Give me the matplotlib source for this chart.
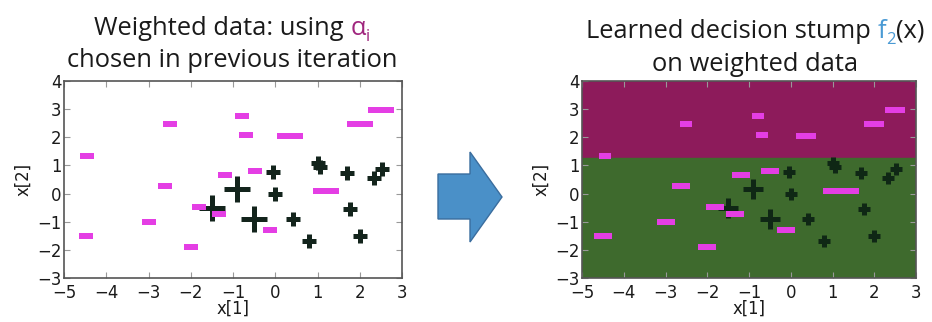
import matplotlib
matplotlib.use("Agg")
import matplotlib.pyplot as plt
from matplotlib.patches import Polygon

# negative class (drawn as "-"), positions and weights before/after the stump
neg_x1 = [-4.45, -4.49, -2.50, -2.62, -3.00, -2.00, -1.81, -1.34, -1.19,
          -0.78, -0.70, -0.49, -0.12, 0.36, 1.20, 2.00, 2.50]
neg_x2 = [1.35, -1.51, 2.48, 0.26, -1.02, -1.91, -0.49, -0.73, 0.67,
          2.77, 2.07, 0.79, -1.28, 2.04, 0.09, 2.48, 2.97]
neg_w_prev = [1, 1, 1, 1, 1, 1, 1, 1, 1, 1, 1, 1, 1, 1.85, 1.85, 1.85, 1.85]
neg_w_new = [0.83, 1.32, 0.83, 1.32, 1.32, 1.32, 1.32, 1.32, 1.32,
             0.83, 0.83, 1.32, 1.32, 1.48, 2.52, 1.48, 1.48]

# positive class (drawn as "+")
pos_x1 = [-0.05, 0.00, 0.42, 0.79, 1.00, 1.06, 1.69, 1.76, 2.00, 2.33, 2.52,
          -0.90, -0.50, -1.50]
pos_x2 = [0.78, 0.00, -0.91, -1.68, 1.10, 0.96, 0.73, -0.55, -1.51, 0.55, 0.86,
          0.18, -0.91, -0.50]
pos_w_prev = [1] * 11 + [1.9] * 3
pos_w_new = [0.9] * 11 + [1.5] * 3

# decision stump f2: x[2] > threshold -> negative
stump_threshold = 1.27

x_ticks = [-5, -4, -3, -2, -1, 0, 1, 2, 3]
y_ticks = [-3, -2, -1, 0, 1, 2, 3, 4]

W, H = 932, 322
PT = 72 / 100.0  # px -> pt

MAGENTA = "#e43ee4"
PLUS_DARK = "#13241c"
TITLE_FONT = "Open Sans"
LABEL_SIZE = 16.5 * PT

fig = plt.figure(figsize=(W / 100, H / 100), dpi=100)
fig.patch.set_facecolor("white")


def fmt(t):
    return "\u2212%d" % -t if t < 0 else str(t)


def setup_axes(ax):
    ax.set_xlim(-5, 3)
    ax.set_ylim(-3, 4)
    ax.set_xticks(x_ticks)
    ax.set_yticks(y_ticks)
    ax.set_xticklabels([fmt(t) for t in x_ticks])
    ax.set_yticklabels([fmt(t) for t in y_ticks])
    ax.tick_params(direction="in", top=True, right=True, length=4, width=0.8,
                   color="#999999", labelsize=LABEL_SIZE, labelcolor="#1a1a1a")
    ax.tick_params(axis="x", pad=4)
    ax.tick_params(axis="y", pad=2)
    for lbl in ax.get_yticklabels():
        lbl.set_va("center_baseline")
    for s in ax.spines.values():
        s.set_color("#555555")
        s.set_linewidth(1.2)
    ax.set_xlabel("x[1]", fontsize=LABEL_SIZE, color="#1a1a1a", labelpad=-1)
    ax.set_ylabel("x[2]", fontsize=LABEL_SIZE, color="#1a1a1a", labelpad=3)


def draw_points(ax, pw, nw, plus_color):
    for x, y, w in zip(pos_x1, pos_x2, pw):
        ax.plot(x, y, marker="+", ms=13.3 * w * PT, mew=5 * PT,
                color=plus_color, linestyle="none")
    for x, y, w in zip(neg_x1, neg_x2, nw):
        ax.plot(x, y, marker="_", ms=14 * w * PT, mew=6 * PT,
                color=MAGENTA, linestyle="none")


def rich_line(x_px, y_px, pieces, size):
    # pieces: (text, color, size scale, baseline shift in em)
    r = fig.canvas.get_renderer()
    items = []
    for s, c, sc, dy in pieces:
        t = fig.text(0, 0, s, color=c, fontsize=size * sc, family=TITLE_FONT,
                     va="baseline", ha="left")
        w = t.get_window_extent(r).width
        items.append((t, w, dy))
    total = sum(w for _, w, _ in items)
    x = x_px - total / 2
    for t, w, dy in items:
        t.set_position((x / W, 1 - (y_px + dy * size / PT) / H))
        x += w


ax1 = fig.add_axes([64 / W, 1 - 278 / H, 338 / W, 197 / H])
setup_axes(ax1)
draw_points(ax1, pos_w_prev, neg_w_prev, PLUS_DARK)

ax2 = fig.add_axes([582 / W, 1 - 278 / H, 334 / W, 197 / H])
setup_axes(ax2)
ax2.axhspan(stump_threshold, 4, color="#8d1b5b", zorder=0)
ax2.axhspan(-3, stump_threshold, color="#3e6a2d", zorder=0)
draw_points(ax2, pos_w_new, neg_w_new, "#0f2715")

title_size = 25.5 * PT
rich_line(232, 35, [("Weighted data: using ", "#1a1a1a", 1, 0),
                    ("\u03b1", "#a0267e", 1, 0),
                    ("i", "#a0267e", 0.65, 0.25)], title_size)
rich_line(232, 67, [("chosen in previous iteration", "#1a1a1a", 1, 0)],
          title_size)
rich_line(755, 38, [("Learned decision stump ", "#1a1a1a", 1, 0),
                    ("f", "#4a9ad4", 1, 0),
                    ("2", "#4a9ad4", 0.65, 0.25),
                    ("(x)", "#1a1a1a", 1, 0)], title_size)
rich_line(755, 71, [("on weighted data", "#1a1a1a", 1, 0)], title_size)

# block arrow between the panels
arrow_px = [(438, 174), (470, 174), (470, 152), (502, 197),
            (470, 242), (470, 219), (438, 219)]
fig.patches.append(Polygon([(x / W, 1 - y / H) for x, y in arrow_px],
                           closed=True, transform=fig.transFigure,
                           facecolor="#4a90c8", edgecolor="#3a6d9e", lw=1))

fig.savefig("out.png", dpi=100)
